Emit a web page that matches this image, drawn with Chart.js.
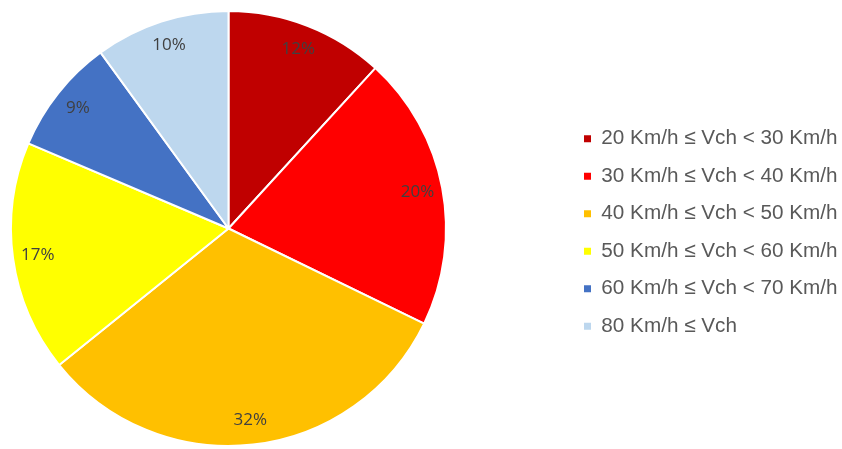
<!DOCTYPE html>
<html>
<head>
<meta charset="utf-8">
<script src="https://cdn.jsdelivr.net/npm/chart.js@4.4.1/dist/chart.umd.min.js"></script>
<style>
  html, body { margin: 0; padding: 0; background: #fff; }
  #wrap { width: 842px; height: 449px; }
</style>
</head>
<body>
<div id="wrap"><canvas id="chart"></canvas></div>
<script>
const categories = [
    '20 Km/h ≤ Vch < 30 Km/h',
    '30 Km/h ≤ Vch < 40 Km/h',
    '40 Km/h ≤ Vch < 50 Km/h',
    '50 Km/h ≤ Vch < 60 Km/h',
    '60 Km/h ≤ Vch < 70 Km/h',
    '80 Km/h ≤ Vch',
];
const shares = [11.8, 20.4, 32.0, 17.2, 8.6, 10.0];
const colors = ['#C00000', '#FF0000', '#FFC000', '#FFFF00', '#4472C4', '#BDD7EE'];

// legend sits far to the right of the pie, so place it by hand after layout
const legendPlacer = {
    id: 'legendPlacer',
    beforeInit(chart) {
        const fit = chart.legend.fit;
        chart.legend.fit = function () {
            fit.call(this);
            this.width = 395;
        };
    },
    afterLayout(chart) {
        const lg = chart.legend;
        lg.left = 584 - chart.options.plugins.legend.labels.padding;
        lg.right = 842;
        lg.width = lg.right - lg.left;
        lg.top += 4;
        lg.bottom += 4;
    }
};

const pctLabels = {
    id: 'pctLabels',
    afterDatasetsDraw(chart) {
        const ctx = chart.ctx;
        const total = shares.reduce((a, b) => a + b, 0);
        const meta = chart.getDatasetMeta(0);
        ctx.save();
        ctx.font = '17px "Open Sans"';
        ctx.fillStyle = '#404040';
        ctx.textAlign = 'center';
        ctx.textBaseline = 'middle';
        meta.data.forEach((arc, i) => {
            const p = arc.getProps(['x', 'y', 'startAngle', 'endAngle', 'outerRadius'], true);
            const mid = (p.startAngle + p.endAngle) / 2;
            const r = p.outerRadius * 0.885;
            const txt = Math.round(shares[i] / total * 100) + '%';
            ctx.fillText(txt, p.x + Math.cos(mid) * r, p.y + Math.sin(mid) * r);
        });
        ctx.restore();
    }
};

const config = {
    type: 'pie',
    data: {
        labels: categories,
        datasets: [{
            data: shares,
            backgroundColor: colors,
            borderColor: '#ffffff',
            borderWidth: 2,
            hoverOffset: 0,
        }]
    },
    options: {
        responsive: true,
        maintainAspectRatio: false,
        animation: false,
        layout: { padding: { left: 10, top: 9, bottom: 1, right: 0 } },
        plugins: {
            tooltip: { enabled: false },
            legend: {
                position: 'right',
                align: 'center',
                labels: {
                    boxWidth: 7,
                    boxHeight: 7,
                    padding: 16.8,
                    color: '#595959',
                    font: { family: '"Liberation Sans", Arial, sans-serif', size: 20.7 },
                    generateLabels(chart) {
                        return categories.map((c, i) => ({
                            text: c,
                            fillStyle: colors[i],
                            strokeStyle: colors[i],
                            lineWidth: 0,
                            fontColor: '#595959',
                            index: i,
                        }));
                    }
                }
            }
        }
    },
    plugins: [legendPlacer, pctLabels]
};

new Chart(document.getElementById('chart'), config);
</script>
</body>
</html>
